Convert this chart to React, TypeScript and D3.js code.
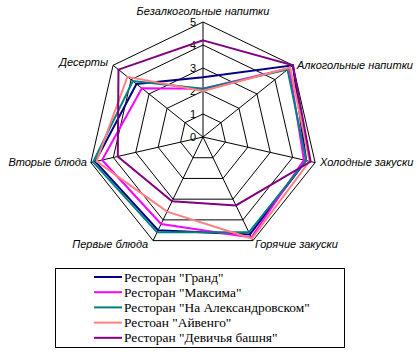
import * as d3 from "d3";

const W = 418;
const H = 352;
const CX = 203;
const CY = 137;
const R = 115;

const categories = [
  "Безалкогольные напитки",
  "Алкогольные напитки",
  "Холодные закуски",
  "Горячие закуски",
  "Первые блюда",
  "Вторые блюда",
  "Десерты",
];

const seriesNames = [
  'Ресторан "Гранд"',
  'Ресторан "Максима"',
  'Ресторан "На Александровском"',
  'Рестоан "Айвенго"',
  'Ресторан "Девичья башня"',
];

const grand = [2.6, 5.0, 4.6, 4.7, 4.5, 4.8, 3.7];
const maxima = [2.1, 4.8, 4.5, 4.85, 4.2, 4.5, 3.4];
const alexandrovsky = [2.1, 4.7, 4.6, 4.6, 4.6, 4.9, 3.9];
const aivengo = [2.0, 4.85, 4.75, 4.9, 3.6, 4.75, 4.2];
const devichya = [4.2, 5.0, 4.8, 3.3, 3.1, 3.8, 4.7];

const seriesValues = [grand, maxima, alexandrovsky, aivengo, devichya];
const colors = ["#000080", "#ff00ff", "#008080", "#ff8080", "#800080"];

const ticks = [0, 1, 2, 3, 4, 5];

export default function App() {
  const r = d3.scaleLinear().domain([0, 5]).range([0, R]);
  const angle = (i: number) => (i * 2 * Math.PI) / categories.length;
  const pt = (i: number, v: number): [number, number] => [
    CX + r(v) * Math.sin(angle(i)),
    CY - r(v) * Math.cos(angle(i)),
  ];

  const radial = d3
    .lineRadial<number>()
    .angle((_, i) => angle(i))
    .radius((d) => r(d))
    .curve(d3.curveLinearClosed);

  // label placement per axis
  const labelPos: { dx: number; dy: number; anchor: string }[] = [
    { dx: 0, dy: -11, anchor: "middle" },
    { dx: 4, dy: 0, anchor: "start" },
    { dx: 5, dy: 0, anchor: "start" },
    { dx: 2, dy: 4, anchor: "start" },
    { dx: -5, dy: 4, anchor: "end" },
    { dx: -4, dy: 0, anchor: "end" },
    { dx: -5, dy: -3, anchor: "end" },
  ];

  return (
    <svg
      width={W}
      height={H}
      style={{ position: "fixed", left: 0, top: 0, background: "#fff" }}
      fontFamily="'Liberation Sans', Arial, sans-serif"
    >
      <g transform={`translate(${CX},${CY})`}>
        {ticks.slice(1).map((t) => (
          <path
            key={t}
            d={radial(categories.map(() => t)) ?? ""}
            fill="none"
            stroke="#000"
            strokeWidth={1}
          />
        ))}
      </g>
      {categories.map((_, i) => {
        const [x, y] = pt(i, 5);
        return <line key={i} x1={CX} y1={CY} x2={x} y2={y} stroke="#000" strokeWidth={1} />;
      })}
      {ticks.map((t) => (
        <text
          key={t}
          x={CX - 7}
          y={CY - r(t)}
          dy="0.35em"
          textAnchor="end"
          fontSize={11}
          fill="#000"
        >
          {t}
        </text>
      ))}
      <g transform={`translate(${CX},${CY})`}>
        {seriesValues.map((vals, s) => (
          <path
            key={s}
            d={radial(vals) ?? ""}
            fill="none"
            stroke={colors[s]}
            strokeWidth={2}
            strokeLinejoin="miter"
          />
        ))}
      </g>
      {categories.map((c, i) => {
        const [x, y] = pt(i, 5);
        const lp = labelPos[i];
        return (
          <text
            key={c}
            x={x + lp.dx}
            y={y + lp.dy}
            dy="0.35em"
            textAnchor={lp.anchor}
            fontSize={11}
            fontStyle="italic"
            fill="#000"
          >
            {c}
          </text>
        );
      })}
      <rect x={55.5} y={268.5} width={289} height={79} fill="#fff" stroke="#000" strokeWidth={1} />
      {seriesNames.map((n, s) => {
        const y = 277 + s * 15.2;
        return (
          <g key={n}>
            <line x1={94} x2={122} y1={y} y2={y} stroke={colors[s]} strokeWidth={2} />
            <text
              x={124}
              y={y}
              dy="0.35em"
              fontSize={13.4}
              fontFamily="'Liberation Serif', 'Times New Roman', serif"
              fill="#000"
            >
              {n}
            </text>
          </g>
        );
      })}
    </svg>
  );
}
